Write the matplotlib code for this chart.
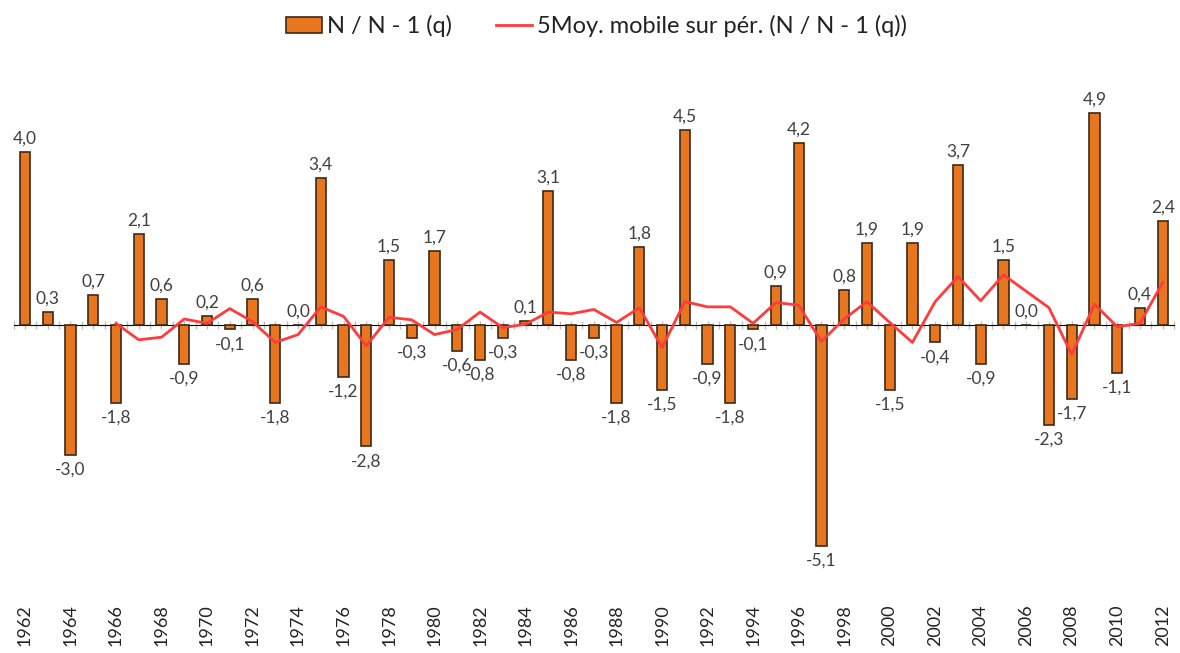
import matplotlib
matplotlib.use("Agg")
import matplotlib.pyplot as plt
from matplotlib.patches import Patch
from matplotlib.lines import Line2D

plt.rcParams['font.family'] = ['Lato', 'DejaVu Sans']

years = list(range(1962, 2013))
values = [4.0, 0.3, -3.0, 0.7, -1.8, 2.1, 0.6, -0.9, 0.2, -0.1,
          0.6, -1.8, 0.0, 3.4, -1.2, -2.8, 1.5, -0.3, 1.7, -0.6,
          -0.8, -0.3, 0.1, 3.1, -0.8, -0.3, -1.8, 1.8, -1.5, 4.5,
          -0.9, -1.8, -0.1, 0.9, 4.2, -5.1, 0.8, 1.9, -1.5, 1.9,
          -0.4, 3.7, -0.9, 1.5, 0.0, -2.3, -1.7, 4.9, -1.1, 0.4, 2.4]
# 5-period moving average as shown (starts at 1966)
ma_years = list(range(1966, 2013))
ma_values = [0.04, -0.34, -0.28, 0.14, 0.04, 0.38, 0.08, -0.40, -0.22, 0.42,
             0.20, -0.48, 0.18, 0.12, -0.22, -0.10, 0.30, -0.06, 0.02, 0.30,
             0.26, 0.36, 0.06, 0.40, -0.52, 0.54, 0.42, 0.42, 0.04, 0.52,
             0.46, -0.38, 0.14, 0.54, 0.06, -0.40, 0.54, 1.12, 0.56, 1.16,
             0.78, 0.40, -0.68, 0.48, -0.04, 0.04, 0.98]
tick_years = list(range(1962, 2013, 2))
series_bar = "N / N - 1 (q)"
series_line = "5Moy. mobile sur pér. (N / N - 1 (q))"

BAR = '#E8761E'
EDGE = '#3a2a1a'
LINE = '#FF3B3B'
TXT = '#404040'

fig = plt.figure(figsize=(11.8, 6.53), dpi=100)
ax = fig.add_axes([0.0115, 0.104, 0.9835, 0.7964])

ax.bar(years, values, width=0.45, color=BAR, edgecolor=EDGE, linewidth=1.2, zorder=3)
ax.plot(ma_years, ma_values, color=LINE, linewidth=2, zorder=4)

for x, v in zip(years, values):
    s = f"{v:.1f}".replace('.', ',')
    if v >= 0:
        ax.annotate(s, (x, v), xytext=(0, 4), textcoords='offset points',
                    ha='center', va='bottom', fontsize=12.5, color=TXT)
    else:
        ax.annotate(s, (x, v), xytext=(0, -5), textcoords='offset points',
                    ha='center', va='top', fontsize=12.5, color=TXT)

ax.set_xlim(1961.5, 2012.5)
ax.set_ylim(-6, 6)
ax.set_yticks([])
for sp in ax.spines.values():
    sp.set_visible(False)

ax.set_xticks(tick_years)
ax.set_xticklabels([str(y) for y in tick_years], rotation=90, fontsize=13, color='#222222')
ax.tick_params(axis='x', length=0, pad=14)

# zero axis with small tick marks
sec = ax.secondary_xaxis(0.5)
sec.set_xticks([y + 0.5 for y in years[:-1]] + [years[0] - 0.5, years[-1] + 0.5])
sec.set_xticks(years, minor=True)
sec.set_xticklabels([])
sec.tick_params(axis='x', which='both', direction='inout', length=6, width=1, color='#c0c0c0')
sec.spines['bottom'].set_color('#b8b8b8')
sec.spines['bottom'].set_linewidth(1.5)

handles = [Patch(facecolor=BAR, edgecolor=EDGE, linewidth=1.2),
           Line2D([0], [0], color=LINE, linewidth=2)]
fig.legend(handles, [series_bar, series_line], loc='center', bbox_to_anchor=(0.5055, 0.96),
           ncol=2, frameon=False, fontsize=17, handlelength=1.5, handletextpad=0.2,
           columnspacing=1.9, labelcolor='#222222')

fig.savefig('out.png', dpi=100)
